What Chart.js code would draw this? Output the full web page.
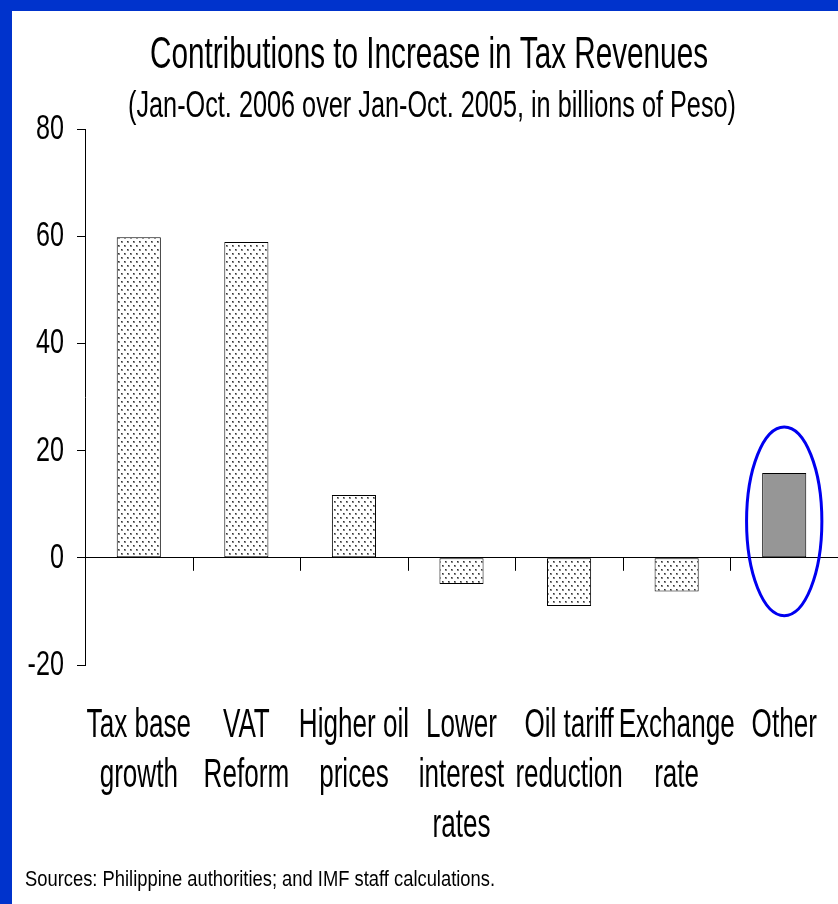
<!DOCTYPE html>
<html>
<head>
<meta charset="utf-8">
<title>Contributions to Increase in Tax Revenues</title>
<script src="https://cdn.jsdelivr.net/npm/chart.js"></script>
<style>
    html, body { margin: 0; padding: 0; background: #fff; }
    canvas { display: block; }
</style>
</head>
<body>
<canvas id="taxChart" width="838" height="904"></canvas>
<script>
// Chart data
const categories = [
    ['Tax base', 'growth'],
    ['VAT', 'Reform'],
    ['Higher oil', 'prices'],
    ['Lower', 'interest', 'rates'],
    ['Oil tariff', 'reduction'],
    ['Exchange', 'rate'],
    ['Other']
];
const contributions = [59.8, 58.9, 11.7, -4.9, -9.0, -6.3, 15.8];
const yTicks = [80, 60, 40, 20, 0, -20];

// circled category and the value range the circle covers
const highlightIndex = 6;
const highlightRange = [24.4, -10.8];

const FONT = '"Liberation Sans", Arial, sans-serif';
const BORDER_BLUE = '#0033cc';

function makeDotPattern(ctx) {
    const c = document.createElement('canvas');
    c.width = 6;
    c.height = 8;
    const g = c.getContext('2d');
    g.fillStyle = '#fff';
    g.fillRect(0, 0, 6, 8);
    g.fillStyle = '#888';
    g.fillRect(1, 1, 2, 2);
    g.fillRect(4, 5, 2, 2);
    g.fillStyle = '#333';
    g.fillRect(1, 1, 1, 1);
    g.fillRect(4, 5, 1, 1);
    return ctx.createPattern(c, 'repeat');
}

// horizontal squeeze so a text gets a given width
function fitScale(ctx, text, size, width) {
    ctx.font = size + 'px ' + FONT;
    return width / ctx.measureText(text).width;
}

function drawText(ctx, text, x, y, size, sx, align) {
    ctx.save();
    ctx.font = size + 'px ' + FONT;
    ctx.textAlign = align;
    ctx.textBaseline = 'alphabetic';
    ctx.fillStyle = '#000';
    ctx.translate(x, y);
    ctx.scale(sx, 1);
    ctx.fillText(text, 0, 0);
    ctx.restore();
}

const pagePlugin = {
    id: 'page',
    beforeDraw(chart) {
        const ctx = chart.ctx;
        ctx.save();
        ctx.fillStyle = '#fff';
        ctx.fillRect(0, 0, chart.width, chart.height);
        ctx.fillStyle = BORDER_BLUE;
        ctx.fillRect(0, 0, chart.width, 11);
        ctx.fillRect(0, 0, 12, chart.height);
        ctx.restore();
    },
    afterDraw(chart) {
        const ctx = chart.ctx;
        const x = chart.scales.x;
        const y = chart.scales.y;
        const zero = y.getPixelForValue(0);

        // small ticks hanging under the zero line, between categories
        ctx.save();
        ctx.strokeStyle = '#000';
        ctx.lineWidth = 1;
        for (let i = 1; i < categories.length; i++) {
            const px = Math.round((x.getPixelForValue(i - 1) + x.getPixelForValue(i)) / 2) + 0.5;
            ctx.beginPath();
            ctx.moveTo(px, zero);
            ctx.lineTo(px, zero + 13);
            ctx.stroke();
        }
        ctx.restore();

        // titles
        const title = 'Contributions to Increase in Tax Revenues';
        const subtitle = '(Jan-Oct. 2006 over Jan-Oct. 2005, in billions of Peso)';
        drawText(ctx, title, 429, 68, 44, fitScale(ctx, title, 44, 558), 'center');
        drawText(ctx, subtitle, 432, 117, 37, fitScale(ctx, subtitle, 37, 608), 'center');

        // y tick labels
        const sy = fitScale(ctx, '80', 35, 28);
        y.ticks.forEach(t => {
            drawText(ctx, t.label, 64, y.getPixelForValue(t.value) + 10, 35, sy, 'right');
        });

        // category labels
        const sx = fitScale(ctx, 'Exchange', 40, 116);
        chart.data.labels.forEach((lines, i) => {
            const px = x.getPixelForValue(i);
            lines.forEach((line, j) => {
                drawText(ctx, line, px, chart.chartArea.bottom + 72 + j * 50, 40, sx, 'center');
            });
        });

        // source note
        const note = 'Sources: Philippine authorities; and IMF staff calculations.';
        drawText(ctx, note, 25, 886, 22, fitScale(ctx, note, 22, 470), 'left');
    }
};

const ellipsePlugin = {
    id: 'highlight',
    afterDatasetsDraw(chart) {
        const ctx = chart.ctx;
        const x = chart.scales.x;
        const y = chart.scales.y;
        const cx = x.getPixelForValue(highlightIndex);
        const rx = 0.35 * (x.getPixelForValue(1) - x.getPixelForValue(0));
        const top = y.getPixelForValue(highlightRange[0]);
        const bottom = y.getPixelForValue(highlightRange[1]);
        ctx.save();
        ctx.strokeStyle = '#0000f0';
        ctx.lineWidth = 3;
        ctx.beginPath();
        ctx.ellipse(cx, (top + bottom) / 2, rx, (bottom - top) / 2, 0, 0, Math.PI * 2);
        ctx.stroke();
        ctx.restore();
    }
};

function initTaxChart() {
    const canvas = document.getElementById('taxChart');
    const ctx = canvas.getContext('2d');
    const dots = makeDotPattern(ctx);
    const fills = contributions.map((v, i) => i === highlightIndex ? '#969696' : dots);

    new Chart(canvas, {
        type: 'bar',
        data: {
            labels: categories,
            datasets: [{
                data: contributions,
                backgroundColor: fills,
                borderColor: '#000',
                borderWidth: 1,
                borderSkipped: false,
                barPercentage: 0.41,
                categoryPercentage: 1
            }]
        },
        options: {
            responsive: false,
            devicePixelRatio: 1,
            animation: false,
            layout: { padding: { top: 129, right: 0, bottom: 0, left: 0 } },
            plugins: {
                legend: { display: false },
                tooltip: { enabled: false },
                title: { display: false }
            },
            scales: {
                x: {
                    grid: { display: false },
                    border: { display: false },
                    ticks: { display: false },
                    afterFit: scale => { scale.height = 239; }
                },
                y: {
                    min: yTicks[yTicks.length - 1],
                    max: yTicks[0],
                    afterBuildTicks: scale => {
                        scale.ticks = yTicks.map(v => ({ value: v }));
                    },
                    ticks: { display: false },
                    grid: {
                        color: c => c.tick && c.tick.value === 0 ? '#000' : 'rgba(0,0,0,0)',
                        tickColor: '#000',
                        tickLength: 8,
                        lineWidth: 1
                    },
                    border: { display: true, color: '#000', width: 1 },
                    afterFit: scale => { scale.width = 85; }
                }
            }
        },
        plugins: [pagePlugin, ellipsePlugin]
    });
}

document.addEventListener('DOMContentLoaded', initTaxChart);
</script>
</body>
</html>
